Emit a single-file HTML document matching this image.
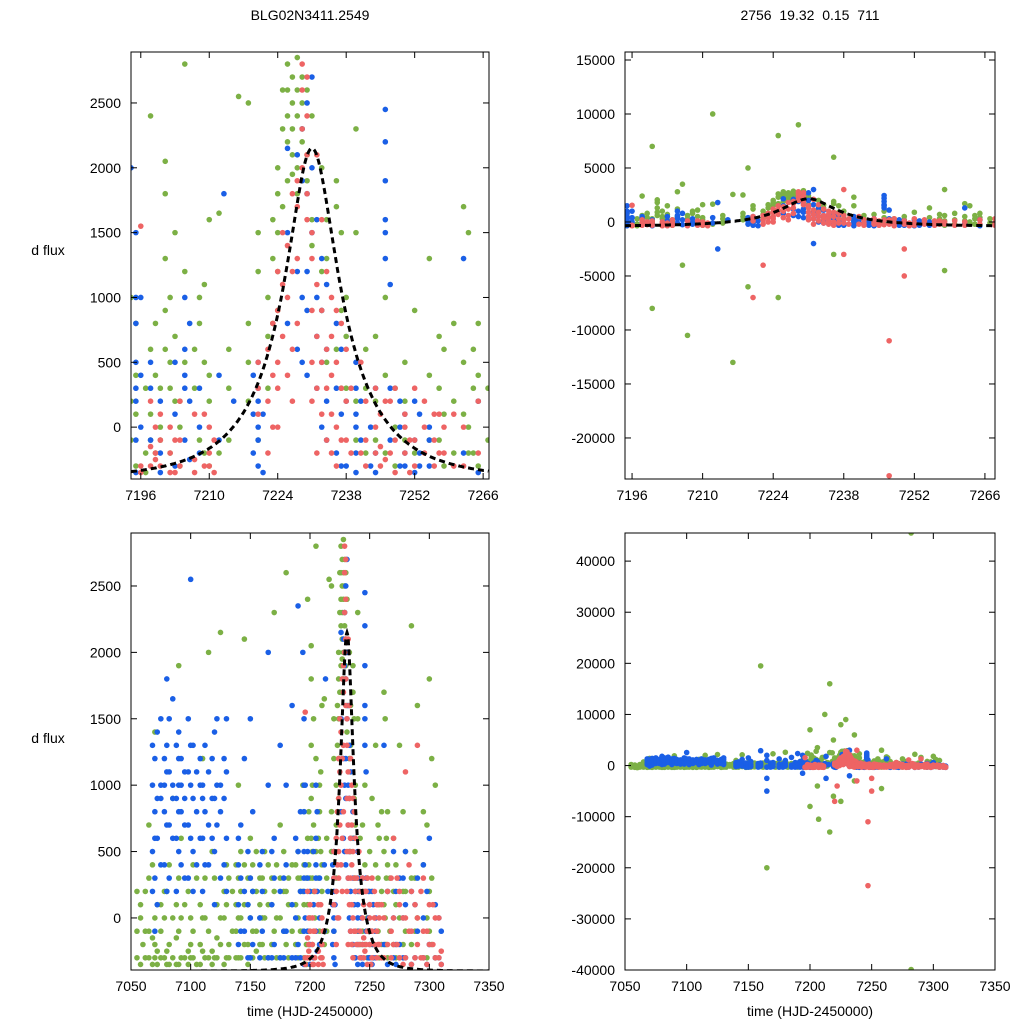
<!DOCTYPE html>
<html><head><meta charset="utf-8">
<style>
html,body{margin:0;padding:0;background:#fff;overflow:hidden;width:1024px;height:1024px;}
svg{display:block;font-family:"Liberation Sans",sans-serif;}
</style></head>
<body>
<svg id="chart" width="1024" height="1024" viewBox="0 0 1024 1024"></svg>
<script>
// ---- data: [time, [flux values...]] ----
const blueData = [
[7068,[1000,500,200,1300]],[7070,[800,1200,300,-100,600]],[7072,[900,1400,600,100]],[7075,[1000,1500,400,900]],[7078,[1200,800,400,1000]],
[7080,[1100,700,1300,200,1800]],[7082,[700,1500,300,1100]],[7085,[900,600,1000,1650]],[7088,[1300,900,600,200]],
[7090,[1200,800,500,1000,1400]],[7092,[1000,1200,400,800]],[7095,[700,1100,300,900]],[7098,[1100,700,1500,300]],
[7100,[1000,600,2550,1300]],[7102,[900,1300,500,200]],[7105,[800,400,1100]],[7108,[600,1000,1200]],
[7110,[1000,600,200,900]],[7112,[800,400,1300]],[7115,[700,1100,400]],[7118,[1200,600,900]],[7120,[1400,900,500,100]],
[7122,[700,1000,1500]],[7125,[800,1000,300]],[7128,[900,400,1200]],[7130,[1500,600,200,1100]],
[7140,[400,-200,100,600]],[7142,[300,-100,700]],[7145,[200,-100,1200]],[7148,[100,-300,500]],[7150,[0,300,-300,1500]],
[7152,[200,-200,800]],[7158,[400,0,-300]],[7160,[2900,500,-100,200]],[7165,[-5000,1000,-300,-2500,2000]],[7168,[100,-300,500]],
[7170,[300,-200,600]],[7175,[200,-300,1300]],[7178,[300,-100,-300]],[7180,[1000,400,-100]],[7185,[1600,100,-300]],
[7188,[600,0,-300]],[7190,[2350,500,-200]],[7192,[800,200,-300]],
[7194,[2000,-1500]],[7195,[1500,1000,500,200,-100,-350,800,300]],[7196,[1000,0,400]],[7198,[300,-100,500]],[7200,[200,-200,-350]],[7203,[500,100,-300]],
[7205,[1000,600,300,-100,400]],[7206,[200,-250,800]],[7208,[-200,300,0]],[7212,[-100,400]],[7213,[-2500,1800]],[7215,[200]],
[7219,[400,-200,100]],[7220,[500,200,-100,-300,0,300]],[7221,[-350,100]],[7226,[2150,1500,800]],[7228,[600,1200,2100]],
[7229,[2300,1900,1000,500]],[7230,[2500,1800,1200,900,400]],
[7231,[2700,2000,1500]],[7232,[1000,700,300,1600,3000,-2000]],[7233,[1300,900,500,0]],[7234,[1100,600,200,-100]],[7236,[800,300,-200]],
[7237,[600,100,-300]],[7238,[200,-300]],
[7240,[500,300,0,-200,-350,100]],[7241,[200,-100]],[7243,[0,-300]],[7244,[300,-200,-350]],[7246,[2450,2200,1900,1600,1500,1300]],[7247,[1100,300,-100]],
[7249,[200,-300,0]],[7250,[-200,100,-300]],[7252,[-100,200,-350]],[7253,[100,-200,-300]],[7255,[0,-300,-100]],[7262,[1300,-200]],[7265,[-350,200]],
[7270,[500,-300,0]],[7272,[200,-200,-350]],[7275,[300,-200]],[7278,[0,300,-300]],[7280,[-300,500,100]],[7285,[200,-350]],
[7288,[100,-300]],[7290,[-100,300]],[7295,[400,-300,0]],[7298,[200,-350]],
[7300,[-200,600]],[7305,[-300,100]],[7308,[0,-300]],[7310,[-350,-100]]
];
const greenData = [
[7055,[-100,-300,200]],[7058,[0,-350,100]],[7060,[-400,-200]],[7062,[-300,200,-100]],[7065,[300,-300,-100,700]],[7068,[-350,-150,400]],
[7070,[-200,0,-300,1400]],[7072,[-250,100,-350]],[7075,[-300,100,-100]],[7078,[-300,0,200]],
[7080,[-250,200,-350]],[7082,[-200,-350,400]],[7085,[0,-300,900]],[7088,[-350,100,-150]],[7090,[-100,-350,1900,300]],[7092,[-300,0,600]],
[7095,[-300,100]],[7098,[-250,-350,200]],[7100,[-200,-300,0]],[7102,[-300,-100,400]],
[7105,[-350,300]],[7108,[-350,100,-200]],[7110,[-250,0,1200]],[7112,[-300,0,300]],[7115,[-100,2000,-300]],[7118,[-250,-350,500]],
[7120,[-300,300]],[7122,[-300,100,-150]],[7125,[2150,-200,0]],[7128,[-350,0,200]],[7130,[-300,400,100]],[7132,[-200,300,-300]],
[7135,[-100,200]],[7138,[-100,400,-300,100]],[7140,[0,-300,300,1000]],[7142,[-300,200,0,500]],[7145,[-200,100,400,2100]],
[7148,[100,-200,300,-350]],[7150,[-300,0,300,600]],[7152,[400,-100,200,-300]],[7155,[-100,200,-250,500]],[7158,[0,300,-200,100]],
[7160,[0,-200,300,19500]],[7162,[200,-300,500,0]],[7165,[-20000,100,-300,400]],[7168,[-200,300,100]],[7170,[-100,200,2300]],
[7172,[0,-300,400]],[7175,[-300,0,300,700]],[7178,[200,-100,500]],[7180,[200,-200,2600]],[7182,[-300,100,300]],
[7185,[-100,400]],[7188,[100,-200,400]],[7190,[0,300,-300,500]],[7192,[-100,300,200]],
[7194,[1000,200,-100]],[7195,[800,400,100,-300]],[7197,[-200,300,-350]],[7198,[2400,100,600,-100]],[7199,[400,800,-200]],[7200,[-100,300,0,-8000,7000]],
[7201,[1800,2050,600,900,1300]],[7202,[500,300,1000,-200]],[7203,[1500,700,200]],[7204,[200,-300,0]],[7205,[2800,500,1200]],
[7206,[-4000,3500]],[7207,[-10500,600,300]],
[7208,[-100,800,1000]],[7209,[500,-200,1100]],[7210,[200,-300,400,1600]],[7212,[10000,1650,-200]],[7214,[300,-100,600]],
[7216,[-13000,16000,2550]],[7218,[2500,800,500,200]],[7219,[-6000,5000]],
[7220,[1200,1500,-100]],[7222,[1000,700,300]],[7223,[1300,800,1600]],[7224,[1500,1800,1200,900,2000]],[7225,[2300,2600,1700,-7000,8000]],
[7226,[2400,2200,2600,1900,2800]],[7227,[2700,2500,2300,2100,1950]],[7228,[2600,2850,2400,2000,1800]],
[7229,[2300,2700,2500,2200,9000]],[7230,[2100,2600,2900,1900]],[7231,[2400,1600,1400]],[7233,[2000,1200,900]],
[7234,[1600,1300,500]],[7236,[1900,1700,600,6000,-3000]],[7237,[1500,900,300]],[7238,[1000,300,700]],[7240,[2300,1500,200,-100]],[7242,[600,300,-200]],
[7244,[-100,700,200]],[7246,[400,-200,1000]],[7248,[300,0,-300]],[7250,[500,-100,200]],[7252,[900,-200]],[7255,[400,1300,-100]],
[7257,[300,-100,700]],[7258,[600,100,-300,-4500,3000]],
[7260,[800,200,-200]],[7262,[1700,100,500]],[7263,[1500,-200,0]],[7264,[600,-200,300]],[7265,[400,-300,200,800]],[7267,[300,-100]],
[7270,[600,200,-200]],[7272,[400,-300,100]],[7275,[1300,0,-300]],[7278,[200,-200,800]],[7280,[500,-100,200]],[7282,[-39900,45500]],
[7285,[2200,300,-200]],[7288,[300,-100,500]],
[7290,[1600,0]],[7295,[400,-300,800]],[7298,[700,0,-300]],[7300,[1800,200,-100]],[7302,[1200,300,-200]],[7305,[1000,-300]]
];
const redData = [
[7196,[-350,-300,1550]],[7198,[-300,-150,200]],[7199,[-250,-200,0]],[7200,[-100,-300,100]],[7202,[-200,0,-350]],[7203,[-350,-100]],
[7204,[200,-300,-100]],[7207,[-250,-350,100]],[7209,[-300,100]],[7210,[-200,-300,0]],[7211,[-100,-350]],
[7220,[-7000,500,300,100]],[7222,[600,200,-200,-4000]],[7223,[800,400,0]],
[7224,[1200,900,500,300,0]],[7225,[1500,1100,700]],[7226,[1400,1000,400]],[7227,[1800,1200,600,200]],[7228,[1900,1700,1300,800]],
[7229,[2300,2600,2800,2000]],[7230,[2700,2400,2100,1800,1600]],[7231,[1500,1300,900,500,200]],[7232,[1100,700,300,-200,2100]],
[7233,[1600,900,500,100]],[7234,[1200,600,300,-100]],[7235,[1000,700,400,100,-200]],[7236,[900,500,0,-300]],
[7237,[800,300,-100]],[7238,[600,200,-100,-3000,3000]],[7239,[300,-200]],[7241,[500,-200]],[7242,[200,-100,-300]],[7244,[0,-200,300]],
[7245,[100,-300,-150]],[7246,[200,-250]],
[7247,[-11000,-23500,200,-200]],[7248,[300,-100,-350]],[7250,[100,-200,0,-5000,-2500]],[7251,[-100,-350]],[7252,[300,-300,-100]],[7254,[200,-200,0]],
[7256,[-100,100,-300]],[7257,[100,-200]],[7258,[-200,0]],[7260,[100,-300]],[7262,[0,-300]],[7265,[-200,200]],
[7268,[-100,300,-300]],[7270,[600,0,-200]],[7273,[300,-200]],[7275,[100,-300,200]],[7278,[0,-350]],[7280,[1100,0,-300]],
[7283,[400,-100]],[7285,[-100,200,-350]],[7288,[-300,100]],
[7290,[1300,0,-200]],[7293,[200,-300]],[7295,[300,-300,-100]],[7298,[-100,-350]],[7300,[-200,100]],[7303,[100,-200]],
[7305,[-300,0]],[7308,[-300,0]],[7310,[-350,-250]]
];
// model parameters
const modelT0 = 7231, modelU0 = 0.3, modelTE = 18, modelBase = -400, modelPeak = 2150;
// ticks
const topXTicks = [7196,7210,7224,7238,7252,7266];
const botXTicks = [7050,7100,7150,7200,7250,7300,7350];
const leftYTicks = [0,500,1000,1500,2000,2500];
const trYTicks = [-20000,-15000,-10000,-5000,0,5000,10000,15000];
const brYTicks = [-40000,-30000,-20000,-10000,0,10000,20000,30000,40000];

const NS = "http://www.w3.org/2000/svg";
const svg = document.getElementById('chart');
function mk(tag, attrs, parent){const e=document.createElementNS(NS,tag);for(const k in attrs)e.setAttribute(k,attrs[k]);(parent||svg).appendChild(e);return e;}
function mag(u){return (u*u+2)/(u*Math.sqrt(u*u+4));}
function model(t){const u=Math.sqrt(modelU0*modelU0+Math.pow((t-modelT0)/modelTE,2));const Fs=(modelPeak-modelBase)/(mag(modelU0)-1);return modelBase+Fs*(mag(u)-1);}

const colors = {green:'#7cb045', blue:'#1a5fe6', red:'#ee6464'};
const series = [['green',greenData],['blue',blueData],['red',redData]];

function panel(id, box, xr, yr, xt, yt, showModel, xlabel){
  const [L,T,R,B]=box;
  const sx=t=>L+(t-xr[0])/(xr[1]-xr[0])*(R-L);
  const sy=v=>B-(v-yr[0])/(yr[1]-yr[0])*(B-T);
  const g=mk('g',{});
  
  
  const cp=mk('clipPath',{id:'clip-'+id},g);mk('rect',{x:L,y:T,width:R-L,height:B-T},cp);
  const pts=mk('g',{'clip-path':'url(#clip-'+id+')'},g);
  for(const [cname,data] of series){
    const sg=mk('g',{fill:colors[cname]},pts);
    
    
    for(const [t,fs] of data){
      if(t<xr[0]||t>xr[1]) continue;
      for(const f of fs){
      if(f<yr[0]||f>yr[1]) continue;
      const c=mk('circle',{cx:sx(t),cy:sy(f),r:2.8},sg);
      
      
    }}
  }
  if(showModel){
    let d='';for(let t=xr[0];t<=xr[1];t+=(xr[1]-xr[0])/600){d+=(d?'L':'M')+sx(t).toFixed(1)+','+sy(model(t)).toFixed(1);}
    const p=mk('path',{d:d,fill:'none',stroke:'#000','stroke-width':3,'stroke-dasharray':'6,4'},pts);
    
    
  }
  const fr=mk('rect',{x:L,y:T,width:R-L,height:B-T,fill:'none',stroke:'#000','stroke-width':1},g);
  
  
  for(const t of xt){const x=sx(t);
    mk('line',{x1:x,y1:B,x2:x,y2:B-6,stroke:'#000'},g);mk('line',{x1:x,y1:T,x2:x,y2:T+6,stroke:'#000'},g);
    const tx=mk('text',{x:x,y:B+21,'text-anchor':'middle','font-size':14},g);tx.textContent=t;
    
    
  }
  for(const v of yt){const y=sy(v);
    mk('line',{x1:L,y1:y,x2:L+6,y2:y,stroke:'#000'},g);mk('line',{x1:R,y1:y,x2:R-6,y2:y,stroke:'#000'},g);
    const ty=mk('text',{x:L-10,y:y+5,'text-anchor':'end','font-size':14},g);ty.textContent=v;
    
    
  }
  if(xlabel){const xl=mk('text',{x:(L+R)/2,y:1016,'text-anchor':'middle','font-size':14},g);xl.textContent='time (HJD-2450000)';
    
    }
}
panel('top-left-panel',[131,52,489,479],[7194,7267.2],[-400,2893],topXTicks,leftYTicks,true,false);
panel('top-right-panel',[625,52,995,479],[7194.6,7268],[-23800,15740],topXTicks,trYTicks,true,false);
panel('bottom-left-panel',[131,533,489,970],[7050,7350],[-392,2899],botXTicks,leftYTicks,true,true);
panel('bottom-right-panel',[625,533,995,970],[7050,7350],[-40000,45500],botXTicks,brYTicks,false,true);

function label(txt,x,y,name){const t=mk('text',{x:x,y:y,'text-anchor':'middle','font-size':14});t.textContent=txt;
  
  }
label('BLG02N3411.2549',310,20,'left-title');
label('2756\u00a0\u00a019.32\u00a0\u00a00.15\u00a0\u00a0711',810,20,'right-title');
label('d flux',48,255,'top-y-axis-title');
label('d flux',48,743,'bottom-y-axis-title');
</script>
</body></html>
